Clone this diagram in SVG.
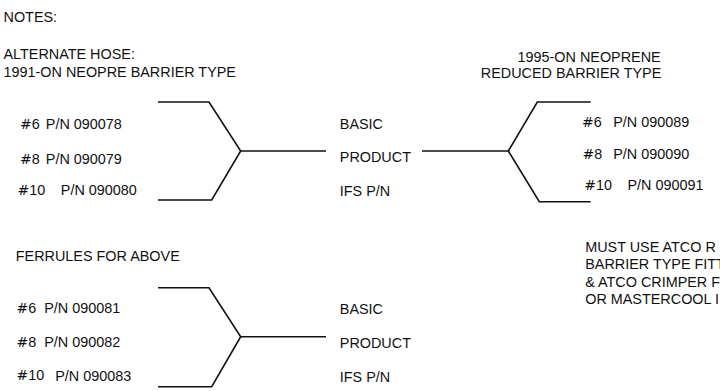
<svg xmlns="http://www.w3.org/2000/svg" width="720" height="391" viewBox="0 0 720 391">
<style>
text{font-family:"Liberation Sans",Arial,Helvetica,sans-serif;font-size:14.4px;fill:#111}
.h{font-family:"DejaVu Sans",sans-serif;font-size:14px}
.ln{fill:none;stroke:#111;stroke-width:1.6;stroke-linejoin:miter}
</style>
<rect width="720" height="391" fill="#fff"/>
<g id="connectors">
<path class="ln" d="M158,102 H209 L240.7,151 L211.7,200 H158"/>
<path class="ln" d="M240.7,151 H326"/>
<path class="ln" d="M422,151 H508.3"/>
<path class="ln" d="M590.7,102 H537.3 L508.3,151 L539.3,201.7 H590.7"/>
<path class="ln" d="M158,287.7 H209 L240.7,336.7 L211.7,386.7 H158"/>
<path class="ln" d="M240.7,336.7 H326"/>
</g>
<g id="notes-title"><text x="3.5" y="22">NOTES:</text></g>
<g id="alt-hose-title">
<text x="3.5" y="58.5">ALTERNATE HOSE:</text>
<text x="3.5" y="76.5">1991-ON NEOPRE BARRIER TYPE</text>
</g>
<g id="alt-hose-parts">
<text x="20" y="129"><tspan class="h">#</tspan>6</text><text x="45.8" y="129">P/N 090078</text>
<text x="20" y="164"><tspan class="h">#</tspan>8</text><text x="45.8" y="164">P/N 090079</text>
<text x="17.6" y="195"><tspan class="h">#</tspan>10</text><text x="60.8" y="195">P/N 090080</text>
</g>
<g id="basic-product-1">
<text x="339.8" y="128.7">BASIC</text>
<text x="339.8" y="162">PRODUCT</text>
<text x="339.8" y="196">IFS P/N</text>
</g>
<g id="reduced-title">
<text x="517.5" y="61.5">1995-ON NEOPRENE</text>
<text x="480.8" y="77.5">REDUCED BARRIER TYPE</text>
</g>
<g id="reduced-parts">
<text x="582" y="127"><tspan class="h">#</tspan>6</text><text x="613.2" y="127">P/N 090089</text>
<text x="582.5" y="159"><tspan class="h">#</tspan>8</text><text x="613.2" y="159">P/N 090090</text>
<text x="584.3" y="190"><tspan class="h">#</tspan>10</text><text x="627.5" y="190">P/N 090091</text>
</g>
<g id="ferrules-title"><text x="15.8" y="260.5">FERRULES FOR ABOVE</text></g>
<g id="ferrules-parts">
<text x="16.6" y="312.7"><tspan class="h">#</tspan>6</text><text x="44.2" y="312.7">P/N 090081</text>
<text x="16.6" y="346.5"><tspan class="h">#</tspan>8</text><text x="44.2" y="346.5">P/N 090082</text>
<text x="16.6" y="380"><tspan class="h">#</tspan>10</text><text x="55.2" y="380.5">P/N 090083</text>
</g>
<g id="basic-product-2">
<text x="339.8" y="314">BASIC</text>
<text x="339.8" y="348">PRODUCT</text>
<text x="339.8" y="382">IFS P/N</text>
</g>
<g id="must-use-note">
<text x="585.2" y="252">MUST USE ATCO R</text>
<text x="585.2" y="269.3">BARRIER TYPE FITT</text>
<text x="585.2" y="286.7">&amp; ATCO CRIMPER F</text>
<text x="585.2" y="304">OR MASTERCOOL I</text>
</g>
</svg>
